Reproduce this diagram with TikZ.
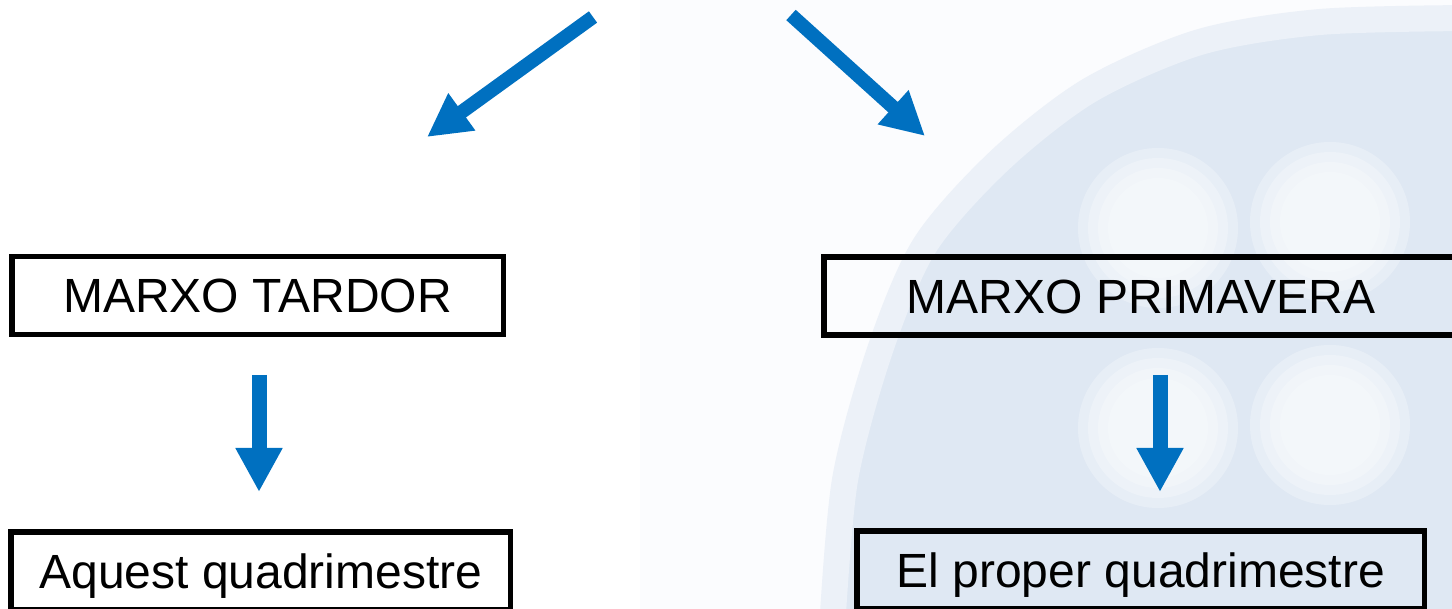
\documentclass[tikz,border=0pt]{standalone}
\usepackage{fontspec}
\setmainfont{Liberation Sans}
\usetikzlibrary{arrows.meta}
\definecolor{arrowblue}{RGB}{0,112,192}
\definecolor{wmblue}{RGB}{223,232,243}
\definecolor{wmwhite}{RGB}{250,252,254}
\definecolor{paleback}{RGB}{251,252,254}
\begin{document}
\begin{tikzpicture}[x=1pt,y=-1pt,
  box/.style={draw=black, line width=5.5pt, minimum height=78pt, inner sep=0pt,
    text height=34.4pt, text depth=0pt, font=\fontsize{48}{57}\selectfont},
  diagarrow/.style={draw=arrowblue, line width=14pt, -{Triangle[width=43pt,length=43pt]}},
  downarrow/.style={draw=arrowblue, line width=15pt, -{Triangle[width=44pt,length=44pt]}},
  blob/.style={fill=wmwhite, fill opacity=0.32}]
\clip (0,0) rectangle (1452,609);
\fill[white] (0,0) rectangle (1452,609);
% faint watermark
\fill[paleback] (640,0) rectangle (1452,609);
\fill[wmblue] plot[smooth] coordinates {(832,630) (845,480) (880,350) (925,245) (1000,160) (1090,90) (1200,42) (1320,22) (1470,18)} -- (1470,630) -- cycle;
\draw[wmblue!55!paleback, line width=26pt] plot[smooth] coordinates {(832,630) (845,480) (880,350) (925,245) (1000,160) (1090,90) (1200,42) (1320,22) (1470,18)};
\foreach \cx/\cy in {1158/228, 1330/222, 1158/428, 1330/425}{
  \foreach \r in {80,70,60,50}{
    \fill[blob] (\cx,\cy) circle (\r);
  }
}
% boxes
\node[box, minimum width=491.5pt] (b1) at (257.5,295.5) {MARXO TARDOR};
\node[box, minimum width=634.5pt] (b2) at (1141,296) {MARXO PRIMAVERA};
\node[box, minimum width=499.5pt] (b3) at (260.75,571) {Aquest quadrimestre};
\node[box, minimum width=567.5pt] (b4) at (1140.75,570) {El proper quadrimestre};
% arrows
\coordinate (t1s) at (593,17);
\coordinate (t1e) at (427,137);
\coordinate (t2s) at (791,15);
\coordinate (t2e) at (925,136);
\coordinate (d1s) at (259,375);
\coordinate (d1e) at (259,492);
\coordinate (d2s) at (1160,375);
\coordinate (d2e) at (1160,492);
\draw[diagarrow] (t1s) -- (t1e);
\draw[diagarrow] (t2s) -- (t2e);
\draw[downarrow] (d1s) -- (d1e);
\draw[downarrow] (d2s) -- (d2e);
\end{tikzpicture}
\end{document}
